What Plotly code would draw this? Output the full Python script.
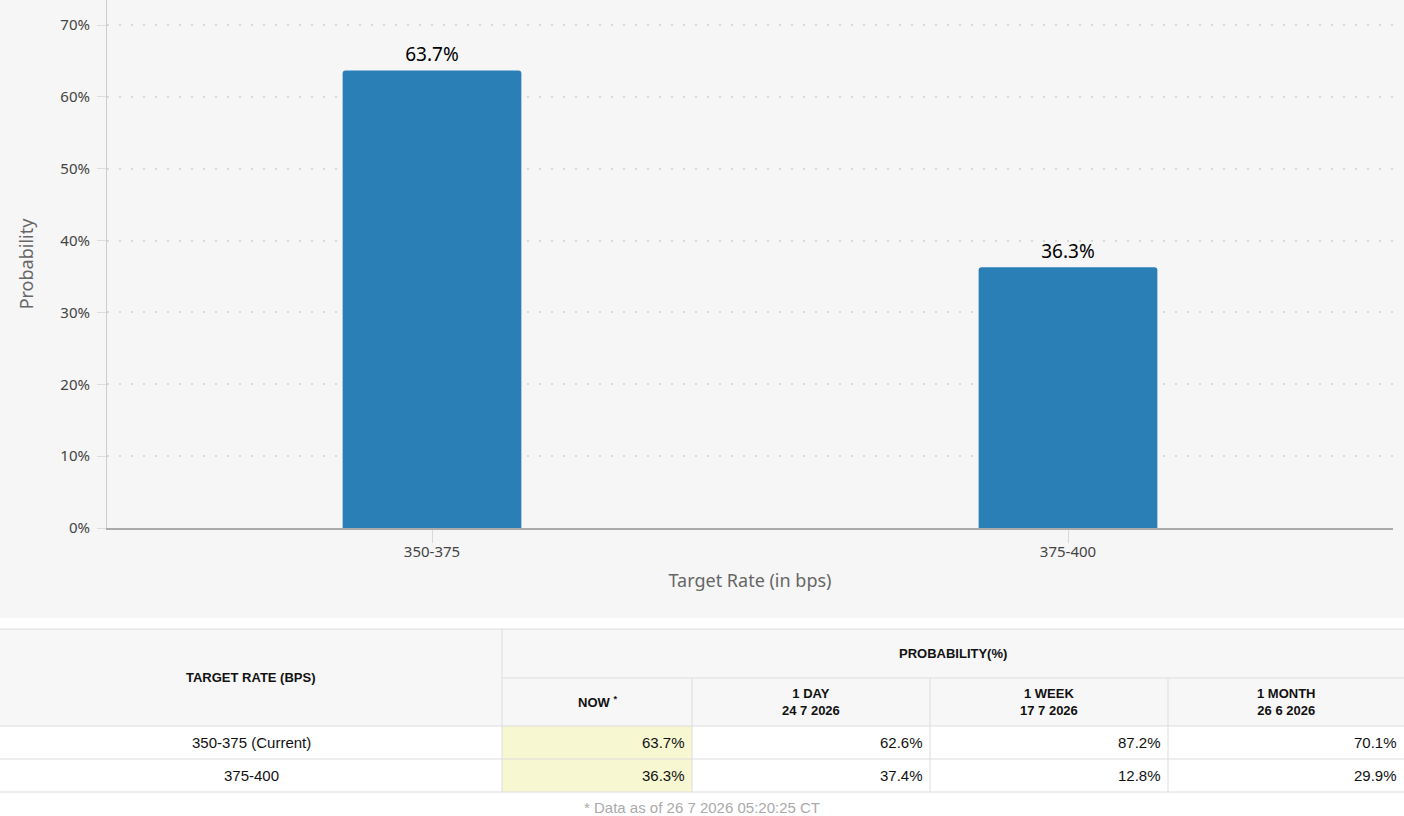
import plotly.graph_objects as go

# chart data
target_rates = ["350-375", "375-400"]
probability_now = [63.7, 36.3]

# table data
table_rows = ["350-375 (Current)", "375-400"]
col_headers = ["NOW <sup>*</sup>", "1 DAY<br>24 7 2026", "1 WEEK<br>17 7 2026", "1 MONTH<br>26 6 2026"]
prob_1day = [62.6, 37.4]
prob_1week = [87.2, 12.8]
prob_1month = [70.1, 29.9]
footnote = "* Data as of 26 7 2026 05:20:25 CT"

W, H = 1404, 825
REF_W, REF_H = 1404, 816  # layout positions below are measured on a 1404x816 grid
BAR_COLOR = "#2a7fb7"
BORDER = "#dddddd"
HEAD_BG = "#f7f7f7"
NOW_BG = "#f7f7d1"


def px(x):
    return x / REF_W


def py(y):
    return 1 - y / REF_H


fig = go.Figure(go.Bar(
    x=target_rates,
    y=probability_now,
    width=0.281,
    marker=dict(color=BAR_COLOR, cornerradius=3, line=dict(width=0)),
    text=[f"{v}%" for v in probability_now],
    textposition="outside",
    textfont=dict(size=19, color="#000000", family="Noto Sans"),
    cliponaxis=False,
))

shapes = []
annotations = []

# gray chart background
shapes.append(dict(type="rect", xref="paper", yref="paper", x0=0, x1=1,
                   y0=py(618), y1=1, fillcolor="#f6f6f6", line_width=0, layer="below"))

# table layout (pixels)
col_edges = [0, 502, 692, 930, 1168, 1404]
row_edges = [629, 678, 726, 759, 792]

# header backgrounds
shapes.append(dict(type="rect", xref="paper", yref="paper", x0=0, x1=1,
                   y0=py(row_edges[2]), y1=py(row_edges[0]), fillcolor=HEAD_BG, line_width=0))
# NOW column highlight
shapes.append(dict(type="rect", xref="paper", yref="paper", x0=px(col_edges[1]), x1=px(col_edges[2]),
                   y0=py(row_edges[4]), y1=py(row_edges[2]), fillcolor=NOW_BG, line_width=0))

# horizontal borders
for i, y in enumerate(row_edges):
    x0 = col_edges[1] if i == 1 else 0
    shapes.append(dict(type="line", xref="paper", yref="paper", x0=px(x0), x1=1,
                       y0=py(y), y1=py(y), line=dict(color=BORDER, width=1)))
# vertical borders
for j, x in enumerate(col_edges[1:-1], start=1):
    ytop = row_edges[0] if j == 1 else row_edges[1]
    shapes.append(dict(type="line", xref="paper", yref="paper", x0=px(x), x1=px(x),
                       y0=py(row_edges[4]), y1=py(ytop), line=dict(color=BORDER, width=1)))

tfont = "Liberation Sans, Arial"
hfont = dict(family=tfont, size=13, color="#111111")


def cell_text(text, x, y, font, xanchor="center"):
    annotations.append(dict(text=text, xref="paper", yref="paper", x=px(x), y=py(y),
                            xanchor=xanchor, yanchor="middle", showarrow=False, font=font))


cell_text("<b>TARGET RATE (BPS)</b>", col_edges[1] / 2, (row_edges[0] + row_edges[2]) / 2, hfont)
cell_text("<b>PROBABILITY(%)</b>", (col_edges[1] + col_edges[-1]) / 2, (row_edges[0] + row_edges[1]) / 2, hfont)
for j, h in enumerate(col_headers):
    cell_text(f"<b>{h}</b>", (col_edges[j + 1] + col_edges[j + 2]) / 2, (row_edges[1] + row_edges[2]) / 2, hfont)

dfont = dict(family=tfont, size=15, color="#111111")
columns = [probability_now, prob_1day, prob_1week, prob_1month]
for i, label in enumerate(table_rows):
    yc = (row_edges[i + 2] + row_edges[i + 3]) / 2
    cell_text(label, col_edges[1] / 2, yc, dfont)
    for j, col in enumerate(columns):
        cell_text(f"{col[i]}%", col_edges[j + 2] - 5, yc, dfont, xanchor="right")

cell_text(footnote, REF_W / 2, 807, dict(family=tfont, size=15, color="#aaaaaa"))

fig.update_layout(
    width=W,
    height=H,
    margin=dict(l=0, r=0, t=0, b=0),
    paper_bgcolor="white",
    plot_bgcolor="rgba(0,0,0,0)",
    showlegend=False,
    font=dict(family="Noto Sans", color="#555555"),
    shapes=shapes,
    annotations=annotations,
    xaxis=dict(
        domain=[px(107), px(1393)],
        range=[-0.511, 1.511],
        showline=True, linecolor="#aaaaaa", linewidth=2,
        ticks="outside", ticklen=13, tickcolor="#d8d8d8", tickwidth=1,
        ticklabelstandoff=-4,
        tickfont=dict(size=15, color="#444444"),
        title=dict(text="Target Rate (in bps)", font=dict(size=18, color="#666666"), standoff=14),
        showgrid=False,
    ),
    yaxis=dict(
        domain=[py(528), 1],
        range=[0, 73.5],
        dtick=10,
        ticksuffix="%",
        showline=True, linecolor="#cccccc", linewidth=1,
        ticks="outside", ticklen=9, tickcolor="#dddddd",
        ticklabelstandoff=4,
        tickfont=dict(size=15, color="#444444"),
        showgrid=True, gridcolor="#d9d9d9", griddash="2px,10px", gridwidth=2,
        zeroline=False,
        title=dict(text="Probability", font=dict(size=18, color="#666666"), standoff=22),
    ),
)

page_fix = (
    "var s='margin:0;padding:0;overflow:hidden;';"
    "document.documentElement.style.cssText=s;document.body.style.cssText=s;"
)
fig.write_html("out.html", config={"displayModeBar": False}, post_script=page_fix)
